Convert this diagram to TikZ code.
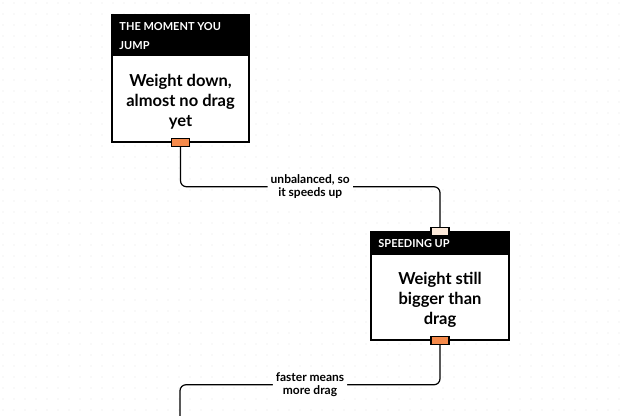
\documentclass[tikz,border=0pt]{standalone}
\usepackage{fontspec}
\setmainfont{Lato}
\usetikzlibrary{positioning}
\definecolor{portorange}{HTML}{F58A4B}
\definecolor{portpeach}{HTML}{FCE9D9}
\tikzset{
  card/.style={draw, line width=1.5pt, minimum width=137pt, fill=white},
  headtext/.style={text=white, font=\bfseries\fontsize{11}{19.5}\selectfont, align=left, anchor=north west, inner sep=0pt},
  bodytext/.style={font=\bfseries\fontsize{16.5}{20}\selectfont, align=center},
  port/.style={draw, line width=1.2pt, minimum width=18pt, minimum height=8pt, inner sep=0pt},
  wire/.style={line width=1.2pt, rounded corners=6pt},
  wirelabel/.style={fill=white, font=\bfseries\fontsize{12}{13.5}\selectfont, align=center, inner sep=3pt}
}
\begin{document}
\begin{tikzpicture}[x=1pt,y=-1pt]
\useasboundingbox (0,0) rectangle (620,415);
\foreach \i in {0,...,56} \foreach \j in {0,...,37} \fill[black!10] (3+11*\i,3+11*\j) circle (0.6pt);
\node[card, minimum height=127pt] (jump) at (180.5,78.5) {};
\fill (jump.north west) rectangle ([yshift=-42pt]jump.north east);
\node[headtext] (jumphead) at ([xshift=8pt,yshift=-8pt]jump.north west) {THE MOMENT YOU\\JUMP};
\node[bodytext] (jumptext) at (180.5,102) {Weight down,\\almost no drag\\yet};
\node[card, minimum width=138pt, minimum height=108pt] (speed) at (440,286) {};
\fill (speed.north west) rectangle ([yshift=-24pt]speed.north east);
\node[headtext] (speedhead) at ([xshift=8pt,yshift=-8pt]speed.north west) {SPEEDING UP};
\node[bodytext] (speedtext) at (440,300) {Weight still\\bigger than\\drag};
\coordinate (next) at (180,420);
\draw[wire] (jump.south) -- ++(0,44) -| node[wirelabel, pos=0.25] (speedlabel) {unbalanced, so\\it speeds up} (speed.north);
\draw[wire] (speed.south) -- ++(0,44) -| node[wirelabel, pos=0.25] (draglabel) {faster means\\more drag} (next);
\node[port, fill=portorange] (jumpout) at (jump.south) {};
\node[port, fill=portpeach] (speedin) at (speed.north) {};
\node[port, fill=portorange] (speedout) at (speed.south) {};
\end{tikzpicture}
\end{document}
